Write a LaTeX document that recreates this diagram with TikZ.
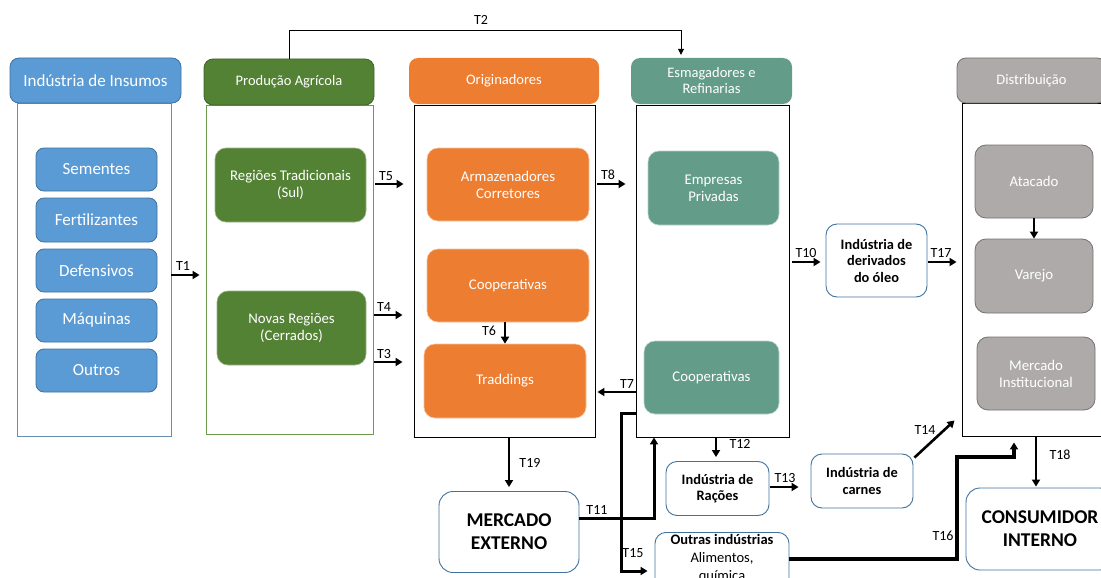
\documentclass[tikz,border=0pt]{standalone}
\usepackage{fontspec}
\setmainfont{Carlito}
\usetikzlibrary{arrows.meta,calc}

\definecolor{insblue}{HTML}{5B9BD5}
\definecolor{insedge}{HTML}{41719C}
\definecolor{agrgreen}{HTML}{548235}
\definecolor{agredge}{HTML}{3F6428}
\definecolor{agrline}{HTML}{6E9B4E}
\definecolor{orgorange}{HTML}{ED7D31}
\definecolor{orgedge}{HTML}{F6C3A0}
\definecolor{esmteal}{HTML}{639C89}
\definecolor{esmedge}{HTML}{B9D4CA}
\definecolor{distgray}{HTML}{AEAAAA}
\definecolor{distedge}{HTML}{767171}

\tikzset{
  hdr/.style={rounded corners=9pt, text=white, align=center, inner sep=0pt,
    font=\fontsize{14.5}{16}\selectfont},
  cont/.style={draw, line width=0.9pt, fill=white, inner sep=0pt},
  inbox/.style={rounded corners=11pt, text=white, align=center, inner sep=0pt,
    font=\fontsize{14.8}{17}\selectfont},
  wbox/.style={draw=insedge, line width=0.9pt, fill=white, rounded corners=11pt,
    align=center, inner sep=0pt, font=\bfseries\fontsize{14.4}{16.5}\selectfont},
  bigbox/.style={wbox, rounded corners=14pt, font=\bfseries\fontsize{19.5}{23}\selectfont},
  conn/.style={line width=2.6pt, -{Triangle[length=7pt,width=8pt]}},
  thinconn/.style={line width=0.8pt, -{Triangle[length=6pt,width=6pt]}},
  tlab/.style={font=\fontsize{14}{15}\selectfont, inner sep=0pt}
}

\begin{document}
\begin{tikzpicture}[x=1pt,y=-1pt]
\useasboundingbox (0,0) rectangle (1101,578);
\clip (0,0) rectangle (1101,578);

% column containers
\node[cont, draw=insedge!80, minimum width=154, minimum height=333] (insC) at (94,269.5) {};
\node[cont, draw=agrline, minimum width=167, minimum height=329] (prodC) at (289.5,269.5) {};
\node[cont, minimum width=181, minimum height=332] (origC) at (504.5,271) {};
\node[cont, minimum width=153, minimum height=332] (esmC) at (712.5,271) {};
\node[cont, minimum width=144, minimum height=333] (distC) at (1034,269.5) {};

% column headers
\node[hdr, fill=insblue, draw=insedge, line width=0.8pt, minimum width=171, minimum height=45,
  font=\fontsize{17}{19}\selectfont] (insH) at (95.5,80.5) {Indústria de Insumos};
\node[hdr, fill=agrgreen, draw=agredge, line width=0.8pt, minimum width=170, minimum height=46] (prodH) at (289,82) {Produção Agrícola};
\node[hdr, fill=orgorange, minimum width=190, minimum height=46] (origH) at (504,81) {Originadores};
\node[hdr, fill=esmteal, minimum width=161, minimum height=46] (esmH) at (711.5,81) {Esmagadores e\\Refinarias};
\node[hdr, fill=distgray, draw=distedge, line width=0.8pt, minimum width=149, minimum height=45] (distH) at (1031.5,80.5) {Distribuição};

% inputs industry
\tikzset{insitem/.style={inbox, fill=insblue, draw=insedge, line width=0.8pt, rounded corners=8pt,
  minimum width=121, minimum height=43, font=\fontsize{17}{19}\selectfont}}
\node[insitem] (sem) at (96.5,169.5) {Sementes};
\node[insitem, minimum height=44] (fert) at (96.5,220) {Fertilizantes};
\node[insitem] (def) at (96.5,270.5) {Defensivos};
\node[insitem] (maq) at (96.5,320.5) {Máquinas};
\node[insitem] (out) at (96.5,370.5) {Outros};

% agricultural production
\node[inbox, fill=agrgreen, draw=agrgreen!60, line width=0.6pt, minimum width=151, minimum height=74] (regT) at (290.5,185) {Regiões Tradicionais\\(Sul)};
\node[inbox, fill=agrgreen, draw=agrgreen!60, line width=0.6pt, minimum width=149, minimum height=74] (regN) at (291.5,328) {Novas Regiões\\(Cerrados)};

% originators
\node[inbox, fill=orgorange, draw=orgedge, line width=0.6pt, minimum width=162, minimum height=73] (armaz) at (508,184.5) {Armazenadores\\Corretores};
\node[inbox, fill=orgorange, draw=orgedge, line width=0.6pt, minimum width=162, minimum height=73] (coopO) at (508,285.5) {Cooperativas};
\node[inbox, fill=orgorange, draw=orgedge, line width=0.6pt, minimum width=162, minimum height=74] (tradd) at (505,381) {Traddings};

% crushers and refineries
\node[inbox, fill=esmteal, draw=esmedge, line width=0.6pt, minimum width=131, minimum height=74] (empr) at (713.5,188) {Empresas\\Privadas};
\node[inbox, fill=esmteal, draw=esmedge, line width=0.6pt, minimum width=135, minimum height=73] (coopE) at (711.5,377.5) {Cooperativas};

% distribution
\node[inbox, fill=distgray, draw=distedge, line width=0.8pt, minimum width=118, minimum height=73] (atac) at (1034,181.5) {Atacado};
\node[inbox, fill=distgray, draw=distedge, line width=0.8pt, minimum width=118, minimum height=74] (varj) at (1034,276) {Varejo};
\node[inbox, fill=distgray, draw=distedge, line width=0.8pt, minimum width=118, minimum height=73] (merI) at (1036,373.5) {Mercado\\Institucional};

% downstream industries and markets
\node[wbox, minimum width=101, minimum height=73] (deriv) at (876.5,260.5) {Indústria de\\derivados\\do óleo};
\node[wbox, minimum width=103, minimum height=54] (racoes) at (717.5,488.5) {Indústria de\\Rações};
\node[wbox, minimum width=102, minimum height=54] (carnes) at (862,481) {Indústria de\\carnes};
\node[bigbox, minimum width=140, minimum height=81] (mext) at (509,532) {MERCADO\\EXTERNO};
\node[bigbox, minimum width=148, minimum height=82] (cint) at (1040,529) {CONSUMIDOR\\INTERNO};
\node[wbox, anchor=north, minimum width=134, inner ysep=2pt, font=\fontsize{14.5}{18}\selectfont] (outras) at (722,532)
  {\textbf{Outras indústrias}\\Alimentos,\\química\\};

% flows
\draw[thinconn] (prodH.north) -- (289,30) -| ([xshift=-30.5pt,yshift=3pt]esmH.north);
\node[tlab] (lT2) at (481,20) {T2};

\draw[conn, shorten >=6pt] (insC.east |- 0,275) -- (prodC.west |- 0,275);
\node[tlab] (lT1) at (183,266) {T1};

\draw[conn, shorten <=2pt, shorten >=10pt] (prodC.east |- 0,184) -- (origC.west |- 0,184);
\node[tlab] (lT5) at (386,176) {T5};
\draw[conn, shorten <=1pt, shorten >=11pt] (prodC.east |- 0,315) -- (origC.west |- 0,315);
\node[tlab] (lT4) at (384,307) {T4};
\draw[conn, shorten <=1pt, shorten >=11pt] (prodC.east |- 0,362) -- (origC.west |- 0,362);
\node[tlab] (lT3) at (384,354) {T3};

\draw[conn] (coopO.south -| tradd.north) -- (tradd.north);
\node[tlab] (lT6) at (489,331) {T6};

\draw[conn, shorten <=2pt, shorten >=10pt] (origC.east |- 0,184) -- (esmC.west |- 0,184);
\node[tlab] (lT8) at (608,175) {T8};

\draw[conn, shorten >=2pt] (esmC.west |- 0,392) -- (origC.east |- 0,392);
\node[tlab] (lT7) at (627,384) {T7};

\draw[conn, shorten <=3pt, shorten >=5pt] (esmC.east |- 0,262) -- (deriv.west |- 0,262);
\node[tlab] (lT10) at (806,253) {T10};

\draw[conn, shorten <=1pt, shorten >=5pt] (deriv.east |- 0,262) -- (distC.west |- 0,262);
\node[tlab] (lT17) at (941,253) {T17};

\draw[conn] (atac.south) -- (varj.north);

\draw[conn, shorten >=4pt] (esmC.south -| 716,0) -- (racoes.north -| 716,0);
\node[tlab] (lT12) at (740,444) {T12};

\draw[conn, shorten <=1pt, shorten >=12pt] (racoes.east |- 0,487) -- (carnes.west |- 0,487);
\node[tlab] (lT13) at (785,478) {T13};

\draw[conn] ($(carnes.north east)+(1,4)$) -- ($(distC.south west)+(-7,-16)$);
\node[tlab] (lT14) at (925,430) {T14};

\draw[conn, shorten >=4pt] (origC.south -| mext.north) -- (mext.north);
\node[tlab] (lT19) at (530,463) {T19};

\draw[conn, line width=3pt] (mext.east |- 0,518) -| (esmC.south -| 654,0);
\node[tlab] (lT11) at (597,510) {T11};

\draw[conn, line width=3pt, shorten >=7pt] (esmC.west |- 0,413) -- (621,413) -- (621,571) -- (outras.west |- 0,571);
\node[tlab] (lT15) at (633,553) {T15};

\draw[conn, line width=3.4pt, shorten >=6pt] (outras.east |- 0,559) -- (957,559) -- (957,457) -- (1014,457) -- (distC.south -| 1014,0);
\node[tlab] (lT16) at (943,536) {T16};

\draw[conn, shorten >=1pt] (distC.south -| 1036,0) -- (cint.north -| 1036,0);
\node[tlab] (lT18) at (1060,455) {T18};
\end{tikzpicture}
\end{document}
